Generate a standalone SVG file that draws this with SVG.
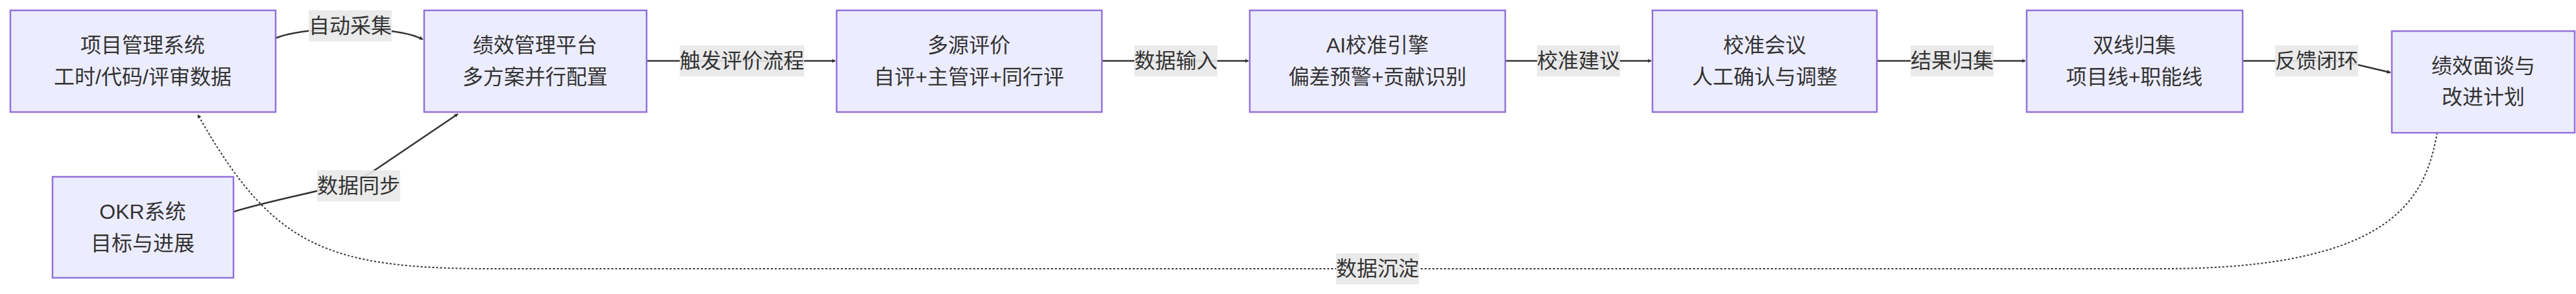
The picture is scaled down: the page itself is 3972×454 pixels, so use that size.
<svg xmlns="http://www.w3.org/2000/svg" width="3972" height="454" viewBox="0 0 3972 454">
<style>
.n rect{fill:#ECECFF;stroke:#9370DB;stroke-width:2.5}
text{font-family:"Liberation Sans","Noto Sans CJK SC",sans-serif;font-size:32px;fill:#333;text-anchor:middle;dominant-baseline:central}
.e{fill:none;stroke:#333;stroke-width:2.5}
.d{stroke-dasharray:3 3;stroke-width:2}
.lb{fill:#e8e8e8;opacity:0.9}
</style>
<defs>
<marker id="ah" viewBox="0 0 10 10" refX="9" refY="5" markerWidth="6" markerHeight="6" orient="auto" markerUnits="userSpaceOnUse">
<path d="M0,0 L10,5 L0,10 z" fill="#333"/>
</marker>
</defs>
<rect width="3972" height="454" fill="#fff"/>
<g id="edges">
<path class="e" marker-end="url(#ah)" markerWidth="12" d="M425,59 C470,40 610,38 652,61"/>
<path class="e" d="M997,94 L1288,94" marker-end="url(#ah)"/>
<path class="e" d="M1699,94 L1925,94" marker-end="url(#ah)"/>
<path class="e" d="M2321,94 L2546,94" marker-end="url(#ah)"/>
<path class="e" d="M2894,94 L3123,94" marker-end="url(#ah)"/>
<path class="e" d="M3458,94 L3610,94 L3686,112" marker-end="url(#ah)"/>
<path class="e" d="M360,327 C450,300 540,290 576,264 L706,176" marker-end="url(#ah)"/>
<path class="e d" d="M3758,205 C3740,300 3700,415 3334,415 L760,415 C500,415 420,380 305,177" marker-end="url(#ah)"/>
<rect class="lb" x="476" y="16" width="128" height="48"/><text x="540" y="40">自动采集</text>
<rect class="lb" x="1048" y="70" width="192" height="48"/><text x="1144" y="94">触发评价流程</text>
<rect class="lb" x="1749" y="70" width="128" height="48"/><text x="1813" y="94">数据输入</text>
<rect class="lb" x="2370" y="70" width="128" height="48"/><text x="2434" y="94">校准建议</text>
<rect class="lb" x="2946" y="70" width="128" height="48"/><text x="3010" y="94">结果归集</text>
<rect class="lb" x="3508" y="70" width="128" height="48"/><text x="3572" y="94">反馈闭环</text>
<rect class="lb" x="489" y="263" width="128" height="48"/><text x="553" y="287">数据同步</text>
<rect class="lb" x="2060" y="391" width="128" height="48"/><text x="2124" y="415">数据沉淀</text>
</g>
<g id="A" class="n"><rect x="16" y="16" width="409" height="157"/><text x="220" y="70">项目管理系统</text><text x="220" y="119">工时/代码/评审数据</text></g>
<g id="B" class="n"><rect x="654" y="16" width="343" height="157"/><text x="825" y="70">绩效管理平台</text><text x="825" y="119">多方案并行配置</text></g>
<g id="C" class="n"><rect x="1290" y="16" width="409" height="157"/><text x="1494" y="70">多源评价</text><text x="1494" y="119">自评+主管评+同行评</text></g>
<g id="D" class="n"><rect x="1927" y="16" width="394" height="157"/><text x="2124" y="70">AI校准引擎</text><text x="2124" y="119">偏差预警+贡献识别</text></g>
<g id="E" class="n"><rect x="2548" y="16" width="346" height="157"/><text x="2721" y="70">校准会议</text><text x="2721" y="119">人工确认与调整</text></g>
<g id="F" class="n"><rect x="3125" y="16" width="333" height="157"/><text x="3291" y="70">双线归集</text><text x="3291" y="119">项目线+职能线</text></g>
<g id="G" class="n"><rect x="3688" y="48" width="282" height="157"/><text x="3829" y="102">绩效面谈与</text><text x="3829" y="150">改进计划</text></g>
<g id="OKR" class="n"><rect x="81" y="273" width="279" height="156"/><text x="220" y="327">OKR系统</text><text x="220" y="376">目标与进展</text></g>
</svg>
